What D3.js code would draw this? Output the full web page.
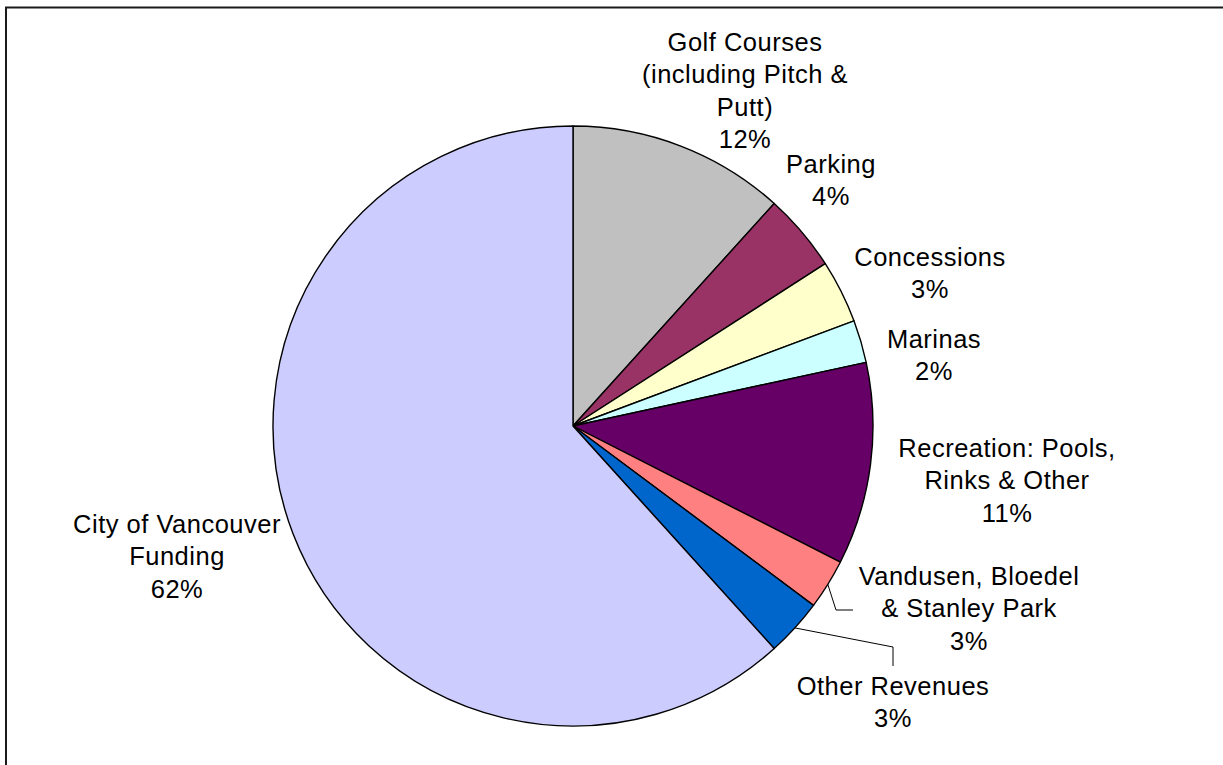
<!DOCTYPE html>
<html>
<head>
<meta charset="utf-8">
<script src="https://cdn.jsdelivr.net/npm/d3@7"></script>
<style>
  html, body { margin: 0; padding: 0; background: #fff; }
  svg { display: block; }
  text { font-family: "Liberation Sans", Arial, sans-serif; font-size: 25.5px; letter-spacing: 0.5px; fill: #000; }
</style>
</head>
<body>
<svg id="chart" width="1223" height="765"></svg>
<script>
// ---- data ----
const categories = [
  "Golf Courses (including Pitch & Putt)",
  "Parking",
  "Concessions",
  "Marinas",
  "Recreation: Pools, Rinks & Other",
  "Vandusen, Bloedel & Stanley Park",
  "Other Revenues",
  "City of Vancouver Funding"
];
const values = [11.7, 4.2, 3.4, 2.3, 10.9, 2.7, 3.1, 61.7];
const labelLines = [
  ["Golf Courses", "(including Pitch &", "Putt)"],
  ["Parking"],
  ["Concessions"],
  ["Marinas"],
  ["Recreation: Pools,", "Rinks & Other"],
  ["Vandusen, Bloedel", "& Stanley Park"],
  ["Other Revenues"],
  ["City of Vancouver", "Funding"]
];
const colors = ["#C0C0C0", "#993366", "#FFFFCC", "#CCFFFF", "#660066", "#FF8080", "#0066CC", "#CCCCFF"];

// ---- layout (positions, not data) ----
const cx = 573, cy = 426, R = 300;
const lineStep = 32.4;
// label block: centre x, first baseline y
const labelLayout = [
  [745, 51], [831, 173], [930, 266], [934, 348],
  [1007, 457], [969, 585], [893, 695], [177, 533]
];
// leader lines (elbow + end points) for the labels that have them
const leaders = {
  5: [[836, 610], [853, 610]],
  6: [[893, 647], [893, 666]]
};

const svg = d3.select("#chart");

// frame (clipped on right/bottom like the reference)
svg.append("path")
  .attr("d", "M6,780 L6,7.5 L1240,7.5")
  .attr("fill", "none").attr("stroke", "#1a1a1a").attr("stroke-width", 2);

const pie = d3.pie().sort(null).value(d => d)(values);
const arc = d3.arc().innerRadius(0).outerRadius(R);

const g = svg.append("g").attr("transform", `translate(${cx},${cy})`);
g.selectAll("path.slice").data(pie).enter().append("path")
  .attr("class", "slice")
  .attr("d", arc)
  .attr("fill", (d, i) => colors[i])
  .attr("stroke", "#000").attr("stroke-width", 1.4).attr("stroke-linejoin", "round");

// leader lines
Object.keys(leaders).forEach(k => {
  const i = +k;
  const mid = (pie[i].startAngle + pie[i].endAngle) / 2;
  const p0 = [cx + R * Math.sin(mid), cy - R * Math.cos(mid)];
  const pts = [p0].concat(leaders[k]);
  svg.append("path")
    .attr("d", d3.line()(pts))
    .attr("fill", "none").attr("stroke", "#000").attr("stroke-width", 1);
});

// labels
const fmt = v => Math.round(v) + "%";
labelLines.forEach((lines, i) => {
  const [x, y0] = labelLayout[i];
  const t = svg.append("text").attr("text-anchor", "middle");
  lines.concat([fmt(values[i])]).forEach((s, j) => {
    t.append("tspan").attr("x", x).attr("y", y0 + j * lineStep).text(s);
  });
});
</script>
</body>
</html>
